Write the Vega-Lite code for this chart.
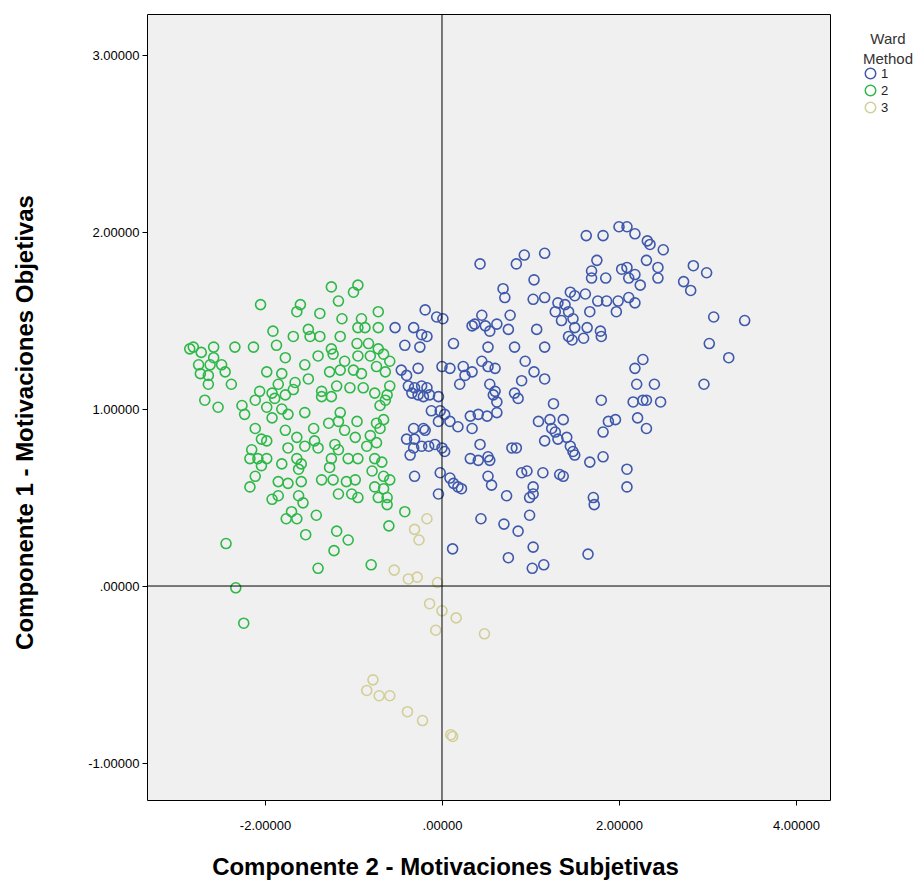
{
"$schema":"https://vega.github.io/schema/vega-lite/v6.json",
"width":683,"height":786,
"autosize":{"type":"none"},
"padding":{"left":147,"top":14,"right":92,"bottom":82},
"background":"white",
"config":{"view":{"fill":"#f0f0f0","stroke":"black","strokeWidth":1},"font":"Liberation Sans"},
"datasets":{"pts":[
{"x":2.00,"y":2.03,"w":"1"},{"x":1.63,"y":1.98,"w":"1"},{"x":1.82,"y":1.98,"w":"1"},{"x":0.93,"y":1.87,"w":"1"},{"x":0.84,"y":1.82,"w":"1"},{"x":1.16,"y":1.88,"w":"1"},{"x":0.43,"y":1.82,"w":"1"},{"x":1.75,"y":1.84,"w":"1"},{"x":1.69,"y":1.78,"w":"1"},{"x":1.85,"y":1.74,"w":"1"},
{"x":2.03,"y":1.79,"w":"1"},{"x":1.69,"y":1.74,"w":"1"},{"x":1.04,"y":1.73,"w":"1"},{"x":0.69,"y":1.68,"w":"1"},{"x":0.71,"y":1.63,"w":"1"},{"x":1.03,"y":1.62,"w":"1"},{"x":1.16,"y":1.63,"w":"1"},{"x":1.45,"y":1.66,"w":"1"},{"x":1.62,"y":1.65,"w":"1"},{"x":1.50,"y":1.64,"w":"1"},
{"x":1.31,"y":1.60,"w":"1"},{"x":1.39,"y":1.59,"w":"1"},{"x":1.28,"y":1.55,"w":"1"},{"x":1.43,"y":1.55,"w":"1"},{"x":1.76,"y":1.61,"w":"1"},{"x":1.86,"y":1.61,"w":"1"},{"x":1.99,"y":1.61,"w":"1"},{"x":1.67,"y":1.55,"w":"1"},{"x":1.97,"y":1.55,"w":"1"},{"x":1.35,"y":1.50,"w":"1"},
{"x":1.48,"y":1.51,"w":"1"},{"x":1.50,"y":1.46,"w":"1"},{"x":1.64,"y":1.46,"w":"1"},{"x":1.79,"y":1.44,"w":"1"},{"x":1.80,"y":1.41,"w":"1"},{"x":1.43,"y":1.41,"w":"1"},{"x":1.47,"y":1.39,"w":"1"},{"x":1.60,"y":1.40,"w":"1"},{"x":0.45,"y":1.53,"w":"1"},{"x":0.49,"y":1.47,"w":"1"},
{"x":0.62,"y":1.48,"w":"1"},{"x":0.75,"y":1.45,"w":"1"},{"x":0.77,"y":1.53,"w":"1"},{"x":0.54,"y":1.44,"w":"1"},{"x":1.07,"y":1.45,"w":"1"},{"x":0.52,"y":1.35,"w":"1"},{"x":0.82,"y":1.35,"w":"1"},{"x":1.16,"y":1.35,"w":"1"},{"x":0.37,"y":1.48,"w":"1"},{"x":2.18,"y":1.99,"w":"1"},
{"x":2.32,"y":1.95,"w":"1"},{"x":2.35,"y":1.93,"w":"1"},{"x":2.50,"y":1.90,"w":"1"},{"x":2.31,"y":1.84,"w":"1"},{"x":2.09,"y":2.03,"w":"1"},{"x":2.09,"y":1.80,"w":"1"},{"x":2.18,"y":1.76,"w":"1"},{"x":2.24,"y":1.70,"w":"1"},{"x":2.44,"y":1.80,"w":"1"},{"x":2.44,"y":1.74,"w":"1"},
{"x":2.11,"y":1.74,"w":"1"},{"x":2.84,"y":1.81,"w":"1"},{"x":2.99,"y":1.77,"w":"1"},{"x":2.73,"y":1.72,"w":"1"},{"x":2.81,"y":1.67,"w":"1"},{"x":2.11,"y":1.63,"w":"1"},{"x":2.18,"y":1.60,"w":"1"},{"x":3.07,"y":1.52,"w":"1"},{"x":3.42,"y":1.50,"w":"1"},{"x":3.02,"y":1.37,"w":"1"},
{"x":2.27,"y":1.28,"w":"1"},{"x":2.18,"y":1.23,"w":"1"},{"x":3.24,"y":1.29,"w":"1"},{"x":2.20,"y":1.14,"w":"1"},{"x":2.40,"y":1.14,"w":"1"},{"x":2.96,"y":1.14,"w":"1"},{"x":2.16,"y":1.04,"w":"1"},{"x":2.27,"y":1.05,"w":"1"},{"x":2.31,"y":1.05,"w":"1"},{"x":2.47,"y":1.04,"w":"1"},
{"x":2.21,"y":0.95,"w":"1"},{"x":2.31,"y":0.89,"w":"1"},{"x":2.09,"y":0.66,"w":"1"},{"x":2.09,"y":0.56,"w":"1"},{"x":0.45,"y":1.27,"w":"1"},{"x":0.52,"y":1.24,"w":"1"},{"x":0.60,"y":1.23,"w":"1"},{"x":0.94,"y":1.27,"w":"1"},{"x":1.04,"y":1.21,"w":"1"},{"x":1.16,"y":1.17,"w":"1"},
{"x":0.90,"y":1.16,"w":"1"},{"x":0.82,"y":1.09,"w":"1"},{"x":0.86,"y":1.06,"w":"1"},{"x":0.60,"y":1.10,"w":"1"},{"x":0.58,"y":1.08,"w":"1"},{"x":0.62,"y":1.04,"w":"1"},{"x":0.54,"y":1.14,"w":"1"},{"x":0.51,"y":0.96,"w":"1"},{"x":0.62,"y":0.98,"w":"1"},{"x":0.41,"y":0.97,"w":"1"},
{"x":1.26,"y":1.03,"w":"1"},{"x":1.80,"y":1.05,"w":"1"},{"x":1.09,"y":0.93,"w":"1"},{"x":1.22,"y":0.94,"w":"1"},{"x":1.37,"y":0.94,"w":"1"},{"x":1.24,"y":0.89,"w":"1"},{"x":1.28,"y":0.87,"w":"1"},{"x":1.16,"y":0.82,"w":"1"},{"x":1.31,"y":0.83,"w":"1"},{"x":1.41,"y":0.84,"w":"1"},
{"x":1.45,"y":0.79,"w":"1"},{"x":1.48,"y":0.76,"w":"1"},{"x":1.50,"y":0.74,"w":"1"},{"x":1.88,"y":0.93,"w":"1"},{"x":1.96,"y":0.94,"w":"1"},{"x":1.82,"y":0.87,"w":"1"},{"x":1.67,"y":0.70,"w":"1"},{"x":1.82,"y":0.73,"w":"1"},{"x":0.79,"y":0.78,"w":"1"},{"x":0.84,"y":0.78,"w":"1"},
{"x":0.52,"y":0.73,"w":"1"},{"x":0.54,"y":0.71,"w":"1"},{"x":0.43,"y":0.80,"w":"1"},{"x":0.41,"y":0.71,"w":"1"},{"x":0.90,"y":0.64,"w":"1"},{"x":0.96,"y":0.65,"w":"1"},{"x":1.14,"y":0.64,"w":"1"},{"x":1.33,"y":0.63,"w":"1"},{"x":1.37,"y":0.62,"w":"1"},{"x":0.52,"y":0.62,"w":"1"},
{"x":0.56,"y":0.57,"w":"1"},{"x":1.03,"y":0.56,"w":"1"},{"x":0.73,"y":0.51,"w":"1"},{"x":0.99,"y":0.50,"w":"1"},{"x":1.03,"y":0.52,"w":"1"},{"x":1.71,"y":0.50,"w":"1"},{"x":0.44,"y":0.38,"w":"1"},{"x":0.70,"y":0.35,"w":"1"},{"x":0.86,"y":0.31,"w":"1"},{"x":1.03,"y":0.22,"w":"1"},
{"x":0.75,"y":0.16,"w":"1"},{"x":1.02,"y":0.10,"w":"1"},{"x":1.15,"y":0.12,"w":"1"},{"x":1.65,"y":0.18,"w":"1"},{"x":1.72,"y":0.46,"w":"1"},{"x":0.99,"y":0.40,"w":"1"},{"x":0.12,"y":0.21,"w":"1"},{"x":-0.19,"y":1.56,"w":"1"},{"x":-0.06,"y":1.52,"w":"1"},{"x":0.01,"y":1.51,"w":"1"},
{"x":-0.53,"y":1.46,"w":"1"},{"x":-0.32,"y":1.46,"w":"1"},{"x":-0.23,"y":1.42,"w":"1"},{"x":-0.17,"y":1.41,"w":"1"},{"x":-0.42,"y":1.36,"w":"1"},{"x":0.13,"y":1.37,"w":"1"},{"x":0.34,"y":1.47,"w":"1"},{"x":-0.25,"y":1.35,"w":"1"},{"x":-0.46,"y":1.22,"w":"1"},{"x":-0.40,"y":1.19,"w":"1"},
{"x":-0.27,"y":1.23,"w":"1"},{"x":0.00,"y":1.24,"w":"1"},{"x":0.09,"y":1.23,"w":"1"},{"x":0.24,"y":1.24,"w":"1"},{"x":0.26,"y":1.19,"w":"1"},{"x":0.20,"y":1.14,"w":"1"},{"x":0.34,"y":1.21,"w":"1"},{"x":-0.38,"y":1.13,"w":"1"},{"x":-0.31,"y":1.12,"w":"1"},{"x":-0.23,"y":1.13,"w":"1"},
{"x":-0.17,"y":1.12,"w":"1"},{"x":-0.27,"y":1.08,"w":"1"},{"x":-0.21,"y":1.07,"w":"1"},{"x":-0.14,"y":1.08,"w":"1"},{"x":-0.04,"y":1.07,"w":"1"},{"x":-0.34,"y":1.09,"w":"1"},{"x":-0.12,"y":0.99,"w":"1"},{"x":-0.02,"y":0.99,"w":"1"},{"x":0.03,"y":0.97,"w":"1"},{"x":-0.04,"y":0.93,"w":"1"},
{"x":0.09,"y":0.93,"w":"1"},{"x":0.18,"y":0.90,"w":"1"},{"x":0.32,"y":0.96,"w":"1"},{"x":0.34,"y":0.89,"w":"1"},{"x":-0.32,"y":0.89,"w":"1"},{"x":-0.21,"y":0.89,"w":"1"},{"x":-0.19,"y":0.88,"w":"1"},{"x":-0.40,"y":0.83,"w":"1"},{"x":-0.31,"y":0.83,"w":"1"},{"x":-0.23,"y":0.79,"w":"1"},
{"x":-0.15,"y":0.79,"w":"1"},{"x":-0.08,"y":0.80,"w":"1"},{"x":0.00,"y":0.78,"w":"1"},{"x":-0.32,"y":0.78,"w":"1"},{"x":-0.36,"y":0.74,"w":"1"},{"x":0.03,"y":0.76,"w":"1"},{"x":-0.02,"y":0.64,"w":"1"},{"x":-0.31,"y":0.62,"w":"1"},{"x":0.09,"y":0.61,"w":"1"},{"x":0.13,"y":0.58,"w":"1"},
{"x":0.18,"y":0.56,"w":"1"},{"x":0.22,"y":0.55,"w":"1"},{"x":-0.04,"y":0.52,"w":"1"},{"x":0.32,"y":0.72,"w":"1"},
{"x":-2.05,"y":1.59,"w":"2"},{"x":-1.60,"y":1.59,"w":"2"},{"x":-1.64,"y":1.55,"w":"2"},{"x":-1.38,"y":1.54,"w":"2"},{"x":-1.91,"y":1.44,"w":"2"},{"x":-1.68,"y":1.41,"w":"2"},{"x":-1.51,"y":1.45,"w":"2"},{"x":-1.49,"y":1.41,"w":"2"},{"x":-1.38,"y":1.41,"w":"2"},{"x":-1.25,"y":1.69,"w":"2"},
{"x":-2.81,"y":1.35,"w":"2"},{"x":-2.58,"y":1.35,"w":"2"},{"x":-2.34,"y":1.35,"w":"2"},{"x":-2.13,"y":1.35,"w":"2"},{"x":-1.87,"y":1.36,"w":"2"},{"x":-0.95,"y":1.70,"w":"2"},{"x":-1.00,"y":1.66,"w":"2"},{"x":-1.17,"y":1.61,"w":"2"},{"x":-0.72,"y":1.55,"w":"2"},{"x":-1.13,"y":1.51,"w":"2"},
{"x":-0.91,"y":1.51,"w":"2"},{"x":-0.95,"y":1.46,"w":"2"},{"x":-0.87,"y":1.46,"w":"2"},{"x":-0.72,"y":1.46,"w":"2"},{"x":-1.15,"y":1.41,"w":"2"},{"x":-0.96,"y":1.37,"w":"2"},{"x":-0.83,"y":1.37,"w":"2"},{"x":-1.25,"y":1.34,"w":"2"},{"x":-0.72,"y":1.34,"w":"2"},{"x":-1.77,"y":1.29,"w":"2"},
{"x":-1.55,"y":1.25,"w":"2"},{"x":-1.40,"y":1.30,"w":"2"},{"x":-2.75,"y":1.25,"w":"2"},{"x":-2.62,"y":1.25,"w":"2"},{"x":-2.49,"y":1.25,"w":"2"},{"x":-2.73,"y":1.20,"w":"2"},{"x":-2.64,"y":1.19,"w":"2"},{"x":-2.45,"y":1.21,"w":"2"},{"x":-2.38,"y":1.14,"w":"2"},{"x":-2.64,"y":1.14,"w":"2"},
{"x":-1.98,"y":1.21,"w":"2"},{"x":-1.81,"y":1.20,"w":"2"},{"x":-1.85,"y":1.14,"w":"2"},{"x":-1.66,"y":1.15,"w":"2"},{"x":-1.51,"y":1.17,"w":"2"},{"x":-1.36,"y":1.10,"w":"2"},{"x":-2.06,"y":1.10,"w":"2"},{"x":-1.92,"y":1.09,"w":"2"},{"x":-1.89,"y":1.06,"w":"2"},{"x":-1.77,"y":1.08,"w":"2"},
{"x":-1.68,"y":1.11,"w":"2"},{"x":-2.68,"y":1.05,"w":"2"},{"x":-2.53,"y":1.01,"w":"2"},{"x":-2.26,"y":1.02,"w":"2"},{"x":-2.23,"y":0.97,"w":"2"},{"x":-2.11,"y":1.05,"w":"2"},{"x":-1.98,"y":1.01,"w":"2"},{"x":-1.92,"y":0.95,"w":"2"},{"x":-1.81,"y":1.00,"w":"2"},{"x":-1.74,"y":0.97,"w":"2"},
{"x":-1.55,"y":0.98,"w":"2"},{"x":-1.36,"y":1.07,"w":"2"},{"x":-2.11,"y":0.89,"w":"2"},{"x":-2.04,"y":0.83,"w":"2"},{"x":-1.98,"y":0.82,"w":"2"},{"x":-1.77,"y":0.88,"w":"2"},{"x":-1.64,"y":0.84,"w":"2"},{"x":-1.45,"y":0.89,"w":"2"},{"x":-1.44,"y":0.82,"w":"2"},{"x":-1.55,"y":0.79,"w":"2"},
{"x":-1.40,"y":0.78,"w":"2"},{"x":-2.15,"y":0.77,"w":"2"},{"x":-1.74,"y":0.78,"w":"2"},{"x":-2.17,"y":0.72,"w":"2"},{"x":-2.08,"y":0.72,"w":"2"},{"x":-1.98,"y":0.72,"w":"2"},{"x":-2.04,"y":0.68,"w":"2"},{"x":-1.81,"y":0.69,"w":"2"},{"x":-1.64,"y":0.72,"w":"2"},{"x":-1.59,"y":0.69,"w":"2"},
{"x":-1.62,"y":0.66,"w":"2"},{"x":-2.11,"y":0.62,"w":"2"},{"x":-1.85,"y":0.59,"w":"2"},{"x":-1.74,"y":0.58,"w":"2"},{"x":-1.59,"y":0.59,"w":"2"},{"x":-1.36,"y":0.60,"w":"2"},{"x":-2.17,"y":0.56,"w":"2"},{"x":-1.85,"y":0.51,"w":"2"},{"x":-1.62,"y":0.51,"w":"2"},{"x":-1.92,"y":0.49,"w":"2"},
{"x":-1.23,"y":1.31,"w":"2"},{"x":-1.10,"y":1.27,"w":"2"},{"x":-0.95,"y":1.30,"w":"2"},{"x":-0.81,"y":1.30,"w":"2"},{"x":-0.66,"y":1.31,"w":"2"},{"x":-0.59,"y":1.27,"w":"2"},{"x":-1.27,"y":1.21,"w":"2"},{"x":-1.15,"y":1.22,"w":"2"},{"x":-1.00,"y":1.22,"w":"2"},{"x":-0.91,"y":1.20,"w":"2"},
{"x":-0.74,"y":1.24,"w":"2"},{"x":-0.64,"y":1.21,"w":"2"},{"x":-1.19,"y":1.13,"w":"2"},{"x":-1.04,"y":1.12,"w":"2"},{"x":-0.89,"y":1.12,"w":"2"},{"x":-0.76,"y":1.09,"w":"2"},{"x":-0.59,"y":1.13,"w":"2"},{"x":-0.62,"y":1.08,"w":"2"},{"x":-1.25,"y":1.07,"w":"2"},{"x":-0.64,"y":1.05,"w":"2"},
{"x":-0.70,"y":1.02,"w":"2"},{"x":-1.15,"y":0.98,"w":"2"},{"x":-1.28,"y":0.92,"w":"2"},{"x":-1.17,"y":0.93,"w":"2"},{"x":-0.96,"y":0.93,"w":"2"},{"x":-0.74,"y":0.92,"w":"2"},{"x":-0.66,"y":0.94,"w":"2"},{"x":-0.70,"y":0.89,"w":"2"},{"x":-1.10,"y":0.88,"w":"2"},{"x":-0.98,"y":0.84,"w":"2"},
{"x":-0.81,"y":0.85,"w":"2"},{"x":-0.74,"y":0.81,"w":"2"},{"x":-1.21,"y":0.80,"w":"2"},{"x":-1.17,"y":0.77,"w":"2"},{"x":-0.85,"y":0.79,"w":"2"},{"x":-1.25,"y":0.72,"w":"2"},{"x":-1.06,"y":0.72,"w":"2"},{"x":-0.95,"y":0.72,"w":"2"},{"x":-0.76,"y":0.72,"w":"2"},{"x":-0.68,"y":0.70,"w":"2"},
{"x":-1.27,"y":0.67,"w":"2"},{"x":-0.79,"y":0.65,"w":"2"},{"x":-0.66,"y":0.62,"w":"2"},{"x":-0.59,"y":0.60,"w":"2"},{"x":-1.23,"y":0.60,"w":"2"},{"x":-1.08,"y":0.59,"w":"2"},{"x":-0.98,"y":0.60,"w":"2"},{"x":-0.76,"y":0.56,"w":"2"},{"x":-0.66,"y":0.55,"w":"2"},{"x":-1.17,"y":0.52,"w":"2"},
{"x":-1.02,"y":0.52,"w":"2"},{"x":-0.95,"y":0.50,"w":"2"},{"x":-0.72,"y":0.50,"w":"2"},{"x":-0.62,"y":0.50,"w":"2"},{"x":-2.44,"y":0.24,"w":"2"},{"x":-2.33,"y":-0.01,"w":"2"},{"x":-2.24,"y":-0.21,"w":"2"},{"x":-1.54,"y":0.29,"w":"2"},{"x":-1.42,"y":0.40,"w":"2"},{"x":-1.40,"y":0.10,"w":"2"},
{"x":-1.76,"y":0.38,"w":"2"},{"x":-1.64,"y":0.38,"w":"2"},{"x":-1.70,"y":0.42,"w":"2"},{"x":-1.57,"y":0.47,"w":"2"},{"x":-1.19,"y":0.31,"w":"2"},{"x":-1.06,"y":0.26,"w":"2"},{"x":-1.22,"y":0.20,"w":"2"},{"x":-0.80,"y":0.12,"w":"2"},{"x":-0.60,"y":0.34,"w":"2"},{"x":-0.42,"y":0.42,"w":"2"},
{"x":-0.62,"y":0.46,"w":"2"},{"x":-2.85,"y":1.34,"w":"2"},{"x":-2.72,"y":1.32,"w":"2"},{"x":-2.58,"y":1.29,"w":"2"},
{"x":-0.17,"y":0.38,"w":"3"},{"x":-0.31,"y":0.32,"w":"3"},{"x":-0.26,"y":0.26,"w":"3"},{"x":-0.54,"y":0.09,"w":"3"},{"x":-0.38,"y":0.04,"w":"3"},{"x":-0.28,"y":0.05,"w":"3"},{"x":-0.05,"y":0.02,"w":"3"},{"x":-0.14,"y":-0.10,"w":"3"},{"x":0.00,"y":-0.14,"w":"3"},{"x":0.16,"y":-0.18,"w":"3"},
{"x":-0.07,"y":-0.25,"w":"3"},{"x":0.48,"y":-0.27,"w":"3"},{"x":-0.78,"y":-0.53,"w":"3"},{"x":-0.85,"y":-0.59,"w":"3"},{"x":-0.71,"y":-0.62,"w":"3"},{"x":-0.59,"y":-0.62,"w":"3"},{"x":-0.39,"y":-0.71,"w":"3"},{"x":-0.22,"y":-0.76,"w":"3"},{"x":0.10,"y":-0.84,"w":"3"},{"x":0.12,"y":-0.85,"w":"3"}
],
"origin":[{"ref":0}]},
"layer":[
{"data":{"name":"pts"},
 "mark":{"type":"point","shape":"circle","filled":false,"size":100,"strokeWidth":1.6,"opacity":1},
 "encoding":{
  "x":{"field":"x","type":"quantitative","scale":{"domain":[-3.333,4.384],"nice":false,"zero":false},
   "axis":{"title":"Componente 2 - Motivaciones Subjetivas","values":[-2,0,2,4],
    "labelExpr":"datum.value == 0 ? '.00000' : replace(format(datum.value, '.5f'), '\u2212', '-')",
    "grid":false,"domain":false,"ticks":true,"tickSize":5,"tickColor":"black","labelColor":"black","labelFontSize":13,"labelFont":"Liberation Sans","labelPadding":14,
    "titleFont":"Liberation Sans","titleFontSize":24,"titleFontWeight":"bold","titleColor":"black","titleX":298,"titleY":74,"titleBaseline":"alphabetic"}},
  "y":{"field":"y","type":"quantitative","scale":{"domain":[-1.209,3.232],"nice":false,"zero":false},
   "axis":{"title":"Componente 1 - Motivaciones Objetivas","values":[-1,0,1,2,3],
    "labelExpr":"datum.value == 0 ? '.00000' : replace(format(datum.value, '.5f'), '\u2212', '-')",
    "grid":false,"domain":false,"ticks":true,"tickSize":5,"tickColor":"black","labelColor":"black","labelFontSize":13,"labelFont":"Liberation Sans","labelPadding":3,
    "titleFont":"Liberation Sans","titleFontSize":24,"titleFontWeight":"bold","titleColor":"black","titleX":-115,"titleY":408,"titleBaseline":"alphabetic","titleAngle":-90}},
  "color":{"field":"w","type":"nominal","scale":{"domain":["1","2","3"],"range":["#3E58AC","#2EB848","#D3CE97"]},
   "legend":{"title":["Ward","Method"],"orient":"none","legendX":716,"legendY":18,"titleFontSize":15,"titleLineHeight":20,"titleFontWeight":"normal","titleColor":"#333333","titleAlign":"center","titleAnchor":"end","titleFont":"Liberation Sans","labelFont":"Liberation Sans","labelFontSize":13,"labelColor":"#222222","symbolSize":110,"symbolStrokeWidth":1.5,"symbolType":"circle","rowPadding":0,"titlePadding":0}}
 }},
{"data":{"name":"origin"},"mark":{"type":"rule","color":"black","strokeWidth":1},"encoding":{"x":{"datum":0,"type":"quantitative"}}},
{"data":{"name":"origin"},"mark":{"type":"rule","color":"black","strokeWidth":1},"encoding":{"y":{"datum":0,"type":"quantitative"}}}
]
}
